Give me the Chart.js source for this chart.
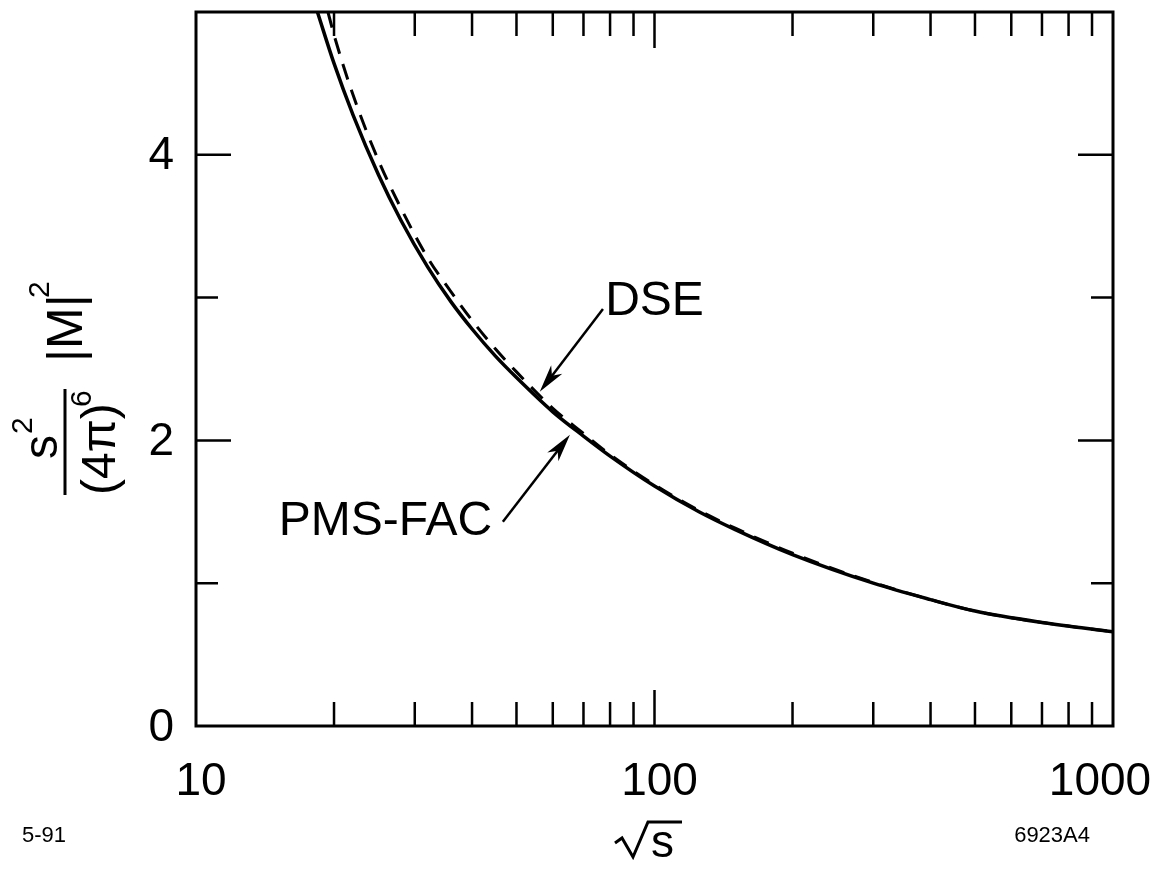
<!DOCTYPE html>
<html>
<head>
<meta charset="utf-8">
<script src="https://cdn.jsdelivr.net/npm/chart.js@4.4.0/dist/chart.umd.min.js"></script>
<style>
  html, body { margin: 0; padding: 0; background: #fff; }
  #wrap { width: 1155px; height: 869px; }
</style>
</head>
<body>
<div id="wrap"><canvas id="chart" width="1155" height="869"></canvas></div>
<script>
// PMS-FAC (solid) curve
const pmsX = [18.4, 20, 22, 25, 28, 32, 36, 40, 45, 50, 60, 70, 80, 100, 125, 150, 200, 300, 400, 500, 700, 1000];
const pmsY = [5.0, 4.64, 4.28, 3.86, 3.54, 3.215, 2.97, 2.78, 2.59, 2.44, 2.20, 2.03, 1.89, 1.68, 1.50, 1.375, 1.20, 1.00, 0.885, 0.805, 0.725, 0.66];

// DSE (dashed) curve
const dseX = [19.4, 20, 22, 25, 28, 32, 36, 40, 45, 50, 60, 70, 80, 100, 125, 150, 200, 300, 400, 500, 700, 1000];
const dseY = [5.0, 4.84, 4.42, 3.96, 3.625, 3.28, 3.04, 2.84, 2.64, 2.48, 2.225, 2.048, 1.90, 1.69, 1.51, 1.385, 1.21, 1.005, 0.885, 0.805, 0.725, 0.66];

// axis ticks
const xTickLabels = [10, 100, 1000];
const xMinorTicks = [20, 30, 40, 50, 60, 70, 80, 90, 200, 300, 400, 500, 600, 700, 800, 900];
const yTickLabels = [0, 2, 4];
const yMinorTicks = [1, 3];

// curve labels with their arrows (data coordinates)
const labelNotes = [
    { text: 'DSE', at: [100, 2.97], from: [77.2, 2.92], to: [56.2, 2.34] },
    { text: 'PMS-FAC', at: [25.9, 1.43], from: [46.7, 1.43], to: [65.4, 2.04] }
];

const FONT = '"Liberation Sans", Arial, Helvetica, sans-serif';

function toPoints(xs, ys) {
    return xs.map((x, i) => ({ x: x, y: ys[i] }));
}

function arrow(ctx, x1, y1, x2, y2) {
    const ang = Math.atan2(y2 - y1, x2 - x1);
    const c = Math.cos(ang), s = Math.sin(ang);
    const len = 28, half = 7;
    ctx.beginPath();
    ctx.moveTo(x1, y1);
    ctx.lineTo(x2 - c * len * 0.7, y2 - s * len * 0.7);
    ctx.stroke();
    ctx.beginPath();
    ctx.moveTo(x2, y2);
    ctx.lineTo(x2 - c * len - s * half, y2 - s * len + c * half);
    ctx.lineTo(x2 - c * len * 0.72, y2 - s * len * 0.72);
    ctx.lineTo(x2 - c * len + s * half, y2 - s * len - c * half);
    ctx.closePath();
    ctx.fill();
}

const framePlugin = {
    id: 'frame',
    afterDraw(chart) {
        const ctx = chart.ctx;
        const { left, right, top, bottom } = chart.chartArea;
        const xs = chart.scales.x, ys = chart.scales.y;
        ctx.save();
        ctx.strokeStyle = '#000';
        ctx.fillStyle = '#000';
        ctx.lineWidth = 3;
        ctx.strokeRect(left, top, right - left, bottom - top);

        // x ticks, inward from top and bottom
        ctx.lineWidth = 2.5;
        const xt = xMinorTicks.map(v => [v, 24]).concat([[100, 36]]);
        xt.forEach(([v, l]) => {
            const px = xs.getPixelForValue(v);
            ctx.beginPath();
            ctx.moveTo(px, bottom); ctx.lineTo(px, bottom - l);
            ctx.moveTo(px, top); ctx.lineTo(px, top + l);
            ctx.stroke();
        });
        // y ticks, inward from left and right
        const yt = yMinorTicks.map(v => [v, 22]).concat([[2, 35], [4, 35]]);
        yt.forEach(([v, l]) => {
            const py = ys.getPixelForValue(v);
            ctx.beginPath();
            ctx.moveTo(left, py); ctx.lineTo(left + l, py);
            ctx.moveTo(right, py); ctx.lineTo(right - l, py);
            ctx.stroke();
        });

        // tick labels
        ctx.font = '46px ' + FONT;
        ctx.textAlign = 'center';
        ctx.textBaseline = 'alphabetic';
        xTickLabels.forEach(v => {
            let px = xs.getPixelForValue(v) + 5;
            if (v === 1000) px -= 18;
            ctx.fillText(String(v), px, 795);
        });
        ctx.textAlign = 'right';
        ctx.textBaseline = 'middle';
        yTickLabels.forEach(v => {
            ctx.fillText(String(v), 174, ys.getPixelForValue(v) + 2);
        });

        // x title: sqrt(s)
        ctx.textAlign = 'left';
        ctx.textBaseline = 'alphabetic';
        ctx.font = '46px ' + FONT;
        ctx.fillText('s', 651, 857);
        ctx.lineWidth = 3;
        ctx.lineJoin = 'miter';
        ctx.beginPath();
        ctx.moveTo(615, 843);
        ctx.lineTo(622, 838);
        ctx.lineTo(633, 857);
        ctx.lineTo(648, 822);
        ctx.lineTo(682, 822);
        ctx.stroke();

        // corner notes
        ctx.font = '22px ' + FONT;
        ctx.fillText('5-91', 22, 842);
        ctx.textAlign = 'right';
        ctx.fillText('6923A4', 1090, 842);

        // y title (rotated fraction)
        ctx.save();
        ctx.translate(65, 442);
        ctx.rotate(-Math.PI / 2);
        ctx.textAlign = 'left';
        ctx.font = '48px ' + FONT;
        ctx.fillText('s', -17, -8);
        ctx.font = '30px ' + FONT;
        ctx.fillText('2', 8, -33);
        ctx.fillRect(-53, -1.5, 106, 3);
        ctx.font = '48px ' + FONT;
        ctx.fillText('(4\u03C0)', -53, 50);
        ctx.font = '30px ' + FONT;
        ctx.fillText('6', 35, 26);
        ctx.font = '50px ' + FONT;
        ctx.fillText('|M|', 80, 17);
        ctx.font = '30px ' + FONT;
        ctx.fillText('2', 144, -16);
        ctx.restore();

        // curve labels and arrows
        ctx.font = '48px ' + FONT;
        ctx.textAlign = 'center';
        ctx.textBaseline = 'middle';
        ctx.lineWidth = 2.5;
        labelNotes.forEach(n => {
            ctx.fillText(n.text, xs.getPixelForValue(n.at[0]), ys.getPixelForValue(n.at[1]));
            arrow(ctx, xs.getPixelForValue(n.from[0]), ys.getPixelForValue(n.from[1]),
                xs.getPixelForValue(n.to[0]), ys.getPixelForValue(n.to[1]));
        });
        ctx.restore();
    }
};

new Chart(document.getElementById('chart'), {
    type: 'line',
    data: {
        datasets: [
            {
                label: 'PMS-FAC',
                data: toPoints(pmsX, pmsY),
                borderColor: '#000',
                borderWidth: 3.5,
                pointRadius: 0,
                cubicInterpolationMode: 'monotone',
                fill: false
            },
            {
                label: 'DSE',
                data: toPoints(dseX, dseY),
                borderColor: '#000',
                borderWidth: 3,
                borderDash: [16, 11],
                pointRadius: 0,
                cubicInterpolationMode: 'monotone',
                fill: false
            }
        ]
    },
    options: {
        responsive: false,
        animation: false,
        devicePixelRatio: 1,
        layout: { padding: { left: 196, right: 42, top: 12, bottom: 143 } },
        plugins: { legend: { display: false }, tooltip: { enabled: false } },
        scales: {
            x: { type: 'logarithmic', min: 10, max: 1000, display: false },
            y: { type: 'linear', min: 0, max: 5, display: false }
        }
    },
    plugins: [framePlugin]
});
</script>
</body>
</html>
